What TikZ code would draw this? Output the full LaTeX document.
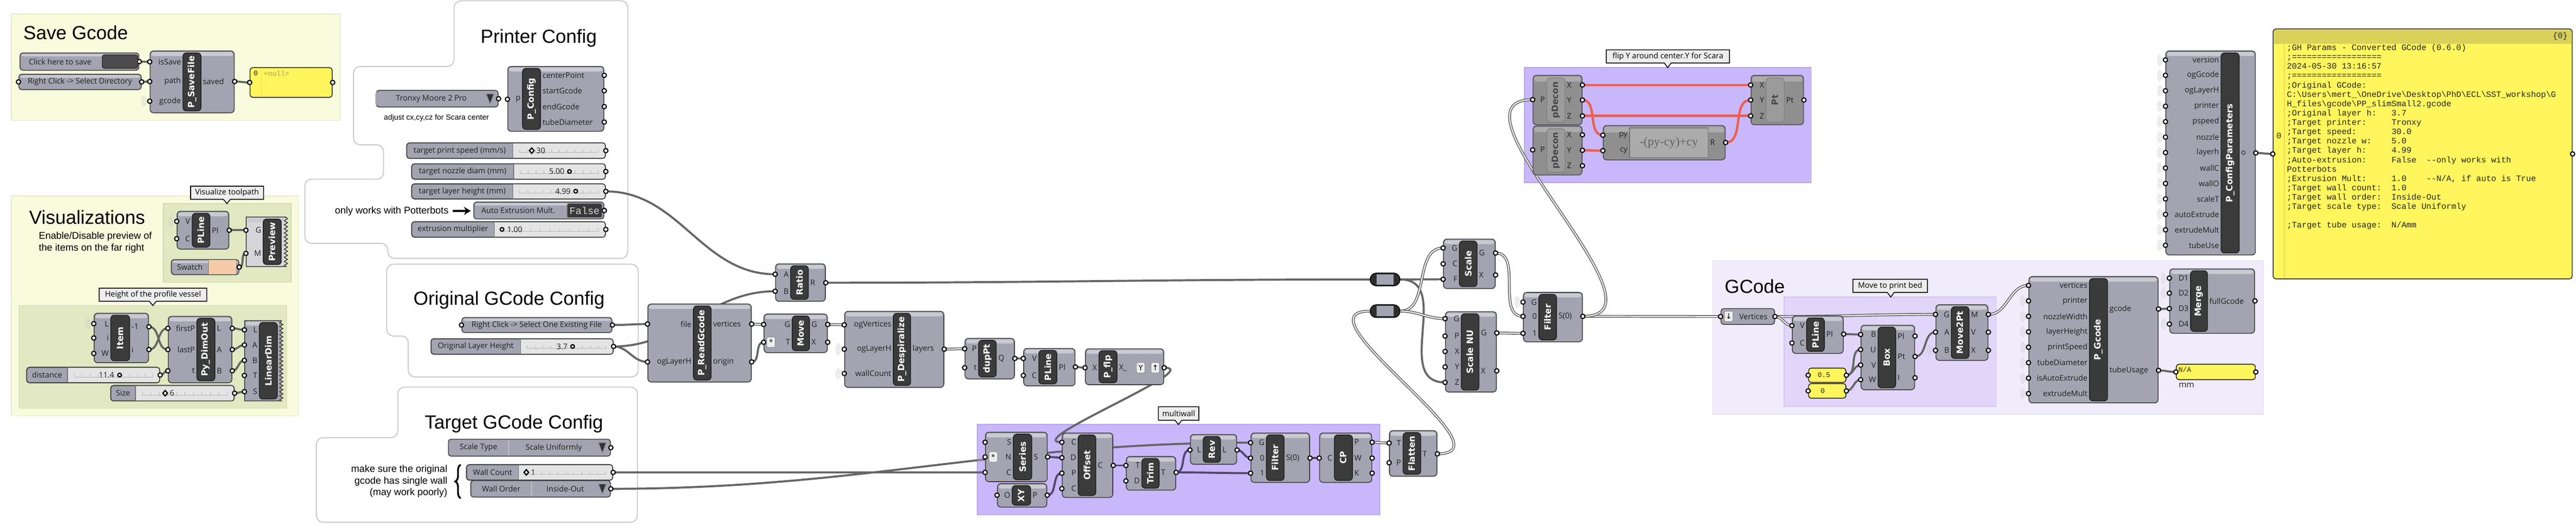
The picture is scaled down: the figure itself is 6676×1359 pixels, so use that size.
\documentclass[tikz,border=0pt]{standalone}
\usepackage{fontspec}
\setmainfont{Open Sans}
\newfontfamily\titlefont{Liberation Sans}
\newfontfamily\namefont{DejaVu Sans}
\newfontfamily\monofont{Liberation Mono}
\newfontfamily\exprfont{Liberation Serif}
\newfontfamily\symfont{DejaVu Sans}
\usetikzlibrary{fit,calc,arrows.meta,decorations.pathreplacing,decorations.pathmorphing}

\definecolor{compfill}{HTML}{A3A3B1}
\definecolor{comptopc}{HTML}{CACAD3}
\definecolor{compline}{HTML}{3E3E3E}
\definecolor{barc}{HTML}{3B3B3B}
\definecolor{lightc}{HTML}{D6D6DA}
\definecolor{greyc}{HTML}{8F8F8F}
\definecolor{greytopc}{HTML}{ABABAB}
\definecolor{greybarc}{HTML}{9B9B9B}
\definecolor{sliderlc}{HTML}{E4E4E4}
\definecolor{panelyc}{HTML}{FFF55C}
\definecolor{bigheadc}{HTML}{D9D15A}
\definecolor{stripc}{HTML}{E6DD55}
\definecolor{nullc}{HTML}{A39D62}
\definecolor{swatchc}{HTML}{F5CBA7}
\definecolor{wirec}{HTML}{666666}
\definecolor{mwirec}{HTML}{51476A}
\definecolor{redc}{HTML}{EE5E4C}
\definecolor{grpyelc}{HTML}{F8FBDC}
\definecolor{grpyeld}{HTML}{E6EACB}
\definecolor{grpolc}{HTML}{E2E8C1}
\definecolor{grpold}{HTML}{D2D9AE}
\definecolor{grppc}{HTML}{C9B7FB}
\definecolor{grppd}{HTML}{B6A3EC}
\definecolor{grplc}{HTML}{F1ECFC}
\definecolor{grpld}{HTML}{E4DDF5}
\definecolor{grpl2c}{HTML}{E1D6FA}
\definecolor{grpl2d}{HTML}{D0C3F0}

\pgfdeclarelayer{grp}
\pgfdeclarelayer{wires}
\pgfsetlayers{grp,wires,main}

% component: name, x1, y1, x2, y2, bar x1, bar x2, nickname
\newcommand{\ghcomp}[8]{%
  \node[comp, fit={(#2,#3) (#4,#5)}] (#1) {};
  \fill[comptop] (#2+3,#3+3) rectangle (#4-3,#3+13);
  \node[cbar, fit={(#6,#3+5) (#7,#5-5)}] (#1-bar) {};
  \node[cname] (#1-name) at (#1-bar) {#8};
}
% greyed component (flip group)
\newcommand{\ghgrey}[8]{%
  \node[gcomp, fit={(#2,#3) (#4,#5)}] (#1) {};
  \fill[gcomptop] (#2+3,#3+3) rectangle (#4-3,#3+16);
  \node[gbar, fit={(#6,#3+7) (#7,#5-7)}] (#1-bar) {};
  \node[gname] (#1-name) at (#1-bar) {#8};
}
% component with jagged right side (no outputs)
\newcommand{\ghzig}[9][compfill]{%
  \node[inner sep=0pt, fit={(#3,#4) (#5,#6)}] (#2) {};
  \draw[zigbody, fill=#1] (#5,#4) -- (#3,#4) -- (#3,#6) -- (#5,#6) decorate {-- (#5,#4)} -- cycle;
  \fill[comptop] (#3+3,#4+3) rectangle (#5-6,#4+13);
  \node[cbar, fit={(#7,#4+5) (#8,#6-5)}] (#2-bar) {};
  \node[cname] (#2-name) at (#2-bar) {#9};
}
% grips: component, id, y, label
\newcommand{\inp}[4]{%
  \coordinate (#1-#2-y) at (0,#3);
  \coordinate (#1-#2) at (#1.west |- #1-#2-y);
  \node[plabel, anchor=east] (#1-#2-lab) at (#1-bar.west |- #1-#2-y) {#4};
  \draw[grip] (#1-#2) circle (1.6pt);
}
\newcommand{\outp}[4]{%
  \coordinate (#1-#2-y) at (0,#3);
  \coordinate (#1-#2) at (#1.east |- #1-#2-y);
  \node[plabel, anchor=west] (#1-#2-lab) at (#1-bar.east |- #1-#2-y) {#4};
  \draw[grip] (#1-#2) circle (1.6pt);
}
\newcommand{\rings}[1]{%
  \foreach \rr in {3.4pt,4.6pt,5.8pt}
    \draw[ring] ([shift={(135:\rr)}]#1) arc[start angle=135, end angle=225, radius=\rr];
}
% slider: name, x1, y1, x2, y2, split, label
\newcommand{\slider}[7]{%
  \node[pbody, fit={(#2,#3) (#4,#5)}] (#1) {};
  \fill[sliderc] (#6,#3+1) rectangle (#4-2,#5-1);
  \draw[pline] (#2,#3) rectangle (#4,#5);
  \draw[sepline] (#6,#3) -- (#6,#5);
  \node[plabel] (#1-lab) at ({(#2+#6)/2},{(#3+#5)/2}) {#7};
  \draw[track] (#6+18,{(#3+#5)/2+5}) -- (#4-18,{(#3+#5)/2+5});
  \foreach \k in {0,...,10}
    \draw[track] ({#6+18+\k*(#4-#6-36)/10},{(#3+#5)/2+5}) -- +(0,-8);
  \coordinate (#1-out) at (#1.east);
  \draw[grip] (#1-out) circle (1.6pt);
}
\newcommand{\knobo}[2]{\draw[knob] (#1,#2) circle (1.35pt);}
\newcommand{\knobd}[2]{\draw[knob] (#1-6,#2) -- (#1,#2-7) -- (#1+6,#2) -- (#1,#2+7) -- cycle;}
% value list: name, x1, y1, x2, y2, split, label, value
\newcommand{\vlist}[8]{%
  \node[pbody, fit={(#2,#3) (#4,#5)}] (#1) {};
  \draw[sepline, draw=black!25] (#6,#3+2) -- (#6,#5-2);
  \node[plabel] (#1-lab) at ({(#2+#6)/2},{(#3+#5)/2}) {#7};
  \node[plabel] (#1-val) at ({(#6+#4-30)/2},{(#3+#5)/2}) {#8};
  \draw[tri] (#4-31,#3+9) -- (#4-11,#3+9) -- (#4-21,#5-8) -- cycle;
  \coordinate (#1-out) at (#1.east);
  \draw[grip] (#1-out) circle (1.6pt);
}
% text parameter: name, x1, y1, x2, y2, text x, text
\newcommand{\tparam}[7]{%
  \node[pbody, fit={(#2,#3) (#4,#5)}] (#1) {};
  \fill[comptop] (#2+3,#3+3) rectangle (#4-3,#3+9);
  \node[plabel] (#1-lab) at (#6,{(#3+#5)/2}) {#7};
  \coordinate (#1-out) at (#1.east);
  \draw[grip] (#1-out) circle (1.6pt);
}
\newcommand{\ypanelbox}[5]{%
  \node[ypanel, fit={(#2,#3) (#4,#5)}] (#1) {};
  \coordinate (#1-in) at (#1.west);
  \coordinate (#1-out) at (#1.east);
  \draw[grip] (#1-in) circle (1.6pt);
  \draw[grip] (#1-out) circle (1.6pt);
}
\newcommand{\relay}[5]{%
  \node[relayc, fit={(#2,#3) (#4,#5)}] (#1) {};
  \fill[compfill] (#2+16,#3+3) rectangle (#4-16,#5-3);
  \coordinate (#1-in) at (#1.west);
  \coordinate (#1-out) at (#1.east);
}
% callout: name, x1, y1, x2, y2, tip x, tip y, text
\newcommand{\callout}[8]{%
  \draw[callbox] (#2,#3) -- (#4,#3) -- (#4,#5) -- (#6+9,#5) -- (#6,#7) -- (#6-9,#5) -- (#2,#5) -- cycle;
  \node[clabel] (#1) at ({(#2+#4)/2},{(#3+#5)/2}) {#8};
}

\begin{document}
\begin{tikzpicture}[x=0.01cm, y=-0.01cm]
  \tikzset{%
    comp/.style={draw=compline, fill=compfill, line width=0.6pt, rounded corners=2.5pt, inner sep=0pt},
    comptop/.style={fill=comptopc, rounded corners=1.5pt},
    cbar/.style={draw=black!90, fill=barc, line width=0.5pt, rounded corners=2.5pt, inner sep=0pt},
    cname/.style={rotate=90, text=white, inner sep=0pt, font=\namefont\bfseries\fontsize{6.4}{7}\selectfont},
    gcomp/.style={draw=black!70, fill=greyc, line width=0.6pt, rounded corners=2.5pt, inner sep=0pt},
    gcomptop/.style={fill=greytopc, rounded corners=1.5pt},
    gbar/.style={draw=black!50, fill=greybarc, line width=0.5pt, rounded corners=2.5pt, inner sep=0pt},
    gname/.style={rotate=90, text=black!72, inner sep=0pt, font=\namefont\bfseries\fontsize{6.4}{7}\selectfont},
    zigbody/.style={draw=compline, line width=0.6pt, decoration={zigzag, segment length=3pt, amplitude=1.2pt}},
    plabel/.style={inner sep=1pt, text=black!88, font=\fontsize{5.7}{6.5}\selectfont},
    grip/.style={draw=black, fill=white, line width=0.8pt},
    ring/.style={draw=black!22, line width=0.3pt},
    pbody/.style={draw=compline, fill=compfill, line width=0.6pt, rounded corners=2pt, inner sep=0pt},
    pline/.style={draw=compline, line width=0.6pt, rounded corners=2pt},
    sliderc/.style={fill=sliderlc},
    sepline/.style={draw=black!55, line width=0.5pt},
    track/.style={draw=black!30, line width=0.3pt},
    knob/.style={draw=black, fill=white, line width=0.9pt},
    tri/.style={draw=black!45, fill=black!80, line width=0.5pt},
    ypanel/.style={draw=black!85, fill=panelyc, line width=0.6pt, rounded corners=2pt, inner sep=0pt},
    mono/.style={inner sep=0pt, text=black!85, font=\monofont\fontsize{5.2}{6}\selectfont},
    grp/.style={line width=0.6pt, inner sep=0pt},
    blob/.style={draw=black!22, fill=white, line width=0.7pt, rounded corners=5pt},
    title/.style={inner sep=0pt, anchor=base west, font=\titlefont\fontsize{14}{16}\selectfont},
    note/.style={inner sep=0pt, font=\titlefont\fontsize{7.2}{8.5}\selectfont},
    smallnote/.style={inner sep=0pt, font=\titlefont\fontsize{5.6}{6.5}\selectfont},
    callbox/.style={draw=black, fill=black!7, line width=0.6pt},
    clabel/.style={inner sep=0pt, font=\fontsize{5.7}{6.5}\selectfont},
    iconbox/.style={draw=black!45, fill=black!7, rounded corners=1pt, inner sep=0pt, minimum width=0.22cm, minimum height=0.27cm, font=\symfont\fontsize{5.5}{6}\selectfont},
    darkbtn/.style={draw=black!85, fill=black!70, line width=0.5pt, rounded corners=1.5pt, inner sep=0pt},
    togkey/.style={draw=black!55, fill=black!78, line width=0.5pt, rounded corners=1pt, inner sep=0pt},
    relayc/.style={draw=black, fill=black!82, line width=0.6pt, rounded corners=4.5pt, inner sep=0pt},
    exbox/.style={draw=black!55, fill=black!33, line width=0.5pt, inner sep=0pt},
    exlabel/.style={inner sep=0pt, text=black!62, font=\exprfont\fontsize{9}{10}\selectfont},
    wallbrace/.style={decorate, decoration={brace, amplitude=4pt}, line width=1.3pt},
    wire/.style={draw=wirec, line width=1.5pt},
    lwire/.style={draw=wirec, line width=0.65pt, double=white, double distance=0.75pt},
    mwire/.style={draw=mwirec, line width=1.5pt},
    rwire/.style={draw=redc, line width=1.7pt},
    fw/.style={out=0, in=180}
  }
  \useasboundingbox (0,0) rectangle (6676,1359);

  \begin{pgfonlayer}{grp}
    \fill[white] (0,0) rectangle (6676,1359);
    \draw[blob] (1177,2) -- (1627,2) -- (1627,669) -- (1005,669) -- (1005,630) -- (790,630) -- (790,464) -- (994,464) -- (994,375) -- (916,375) -- (916,172) -- (1177,172) -- cycle;
    \draw[blob] (1002,684) -- (1654,684) -- (1654,976) -- (1058,976) -- (1058,870) -- (1002,870) -- cycle;
    \draw[blob] (1031,1002) -- (1652,1002) -- (1652,1352) -- (820,1352) -- (820,1133) -- (1031,1133) -- cycle;
    \node[grp, fill=grpyelc, draw=grpyeld, fit={(29,36) (881,312)}] (gsave) {};
    \node[grp, fill=grpyelc, draw=grpyeld, fit={(29,507) (774,1077)}] (gvis) {};
    \node[grp, fill=grpolc, draw=grpold, fit={(423,527) (754,731)}] (gtool) {};
    \node[grp, fill=grpolc, draw=grpold, fit={(49,791) (743,1057)}] (gheight) {};
    \node[grp, fill=grppc, draw=grppd, fit={(2533,1099) (3576,1333)}] (gmulti) {};
    \node[grp, fill=grppc, draw=grppd, fit={(3951,175) (4694,473)}] (gflip) {};
    \node[grp, fill=grplc, draw=grpld, fit={(4439,675) (5866,1072)}] (ggcode) {};
    \node[grp, fill=grpl2c, draw=grpl2d, fit={(4624,769) (5173,1052)}] (gbed) {};
  \end{pgfonlayer}

  % titles and notes
  \node[title] (tsave) at (60,102) {Save Gcode};
  \node[title] (tvis) at (75,580) {Visualizations};
  \node[title] (tprinter) at (1245,112) {Printer Config};
  \node[title] (torig) at (1071,790) {Original GCode Config};
  \node[title] (ttarget) at (1100,1110) {Target GCode Config};
  \node[title] (tgcode) at (4469,759) {GCode};
  \node[note, anchor=north west, align=left] (nvis) at (100,600) {Enable/Disable preview of\\the items on the far right};
  \node[smallnote] (nscara) at (1131,305) {adjust cx,cy,cz for Scara center};
  \node[note, anchor=east] (npotter) at (1163,547) {only works with Potterbots};
  \node[note, anchor=east, align=right] (nwall) at (1160,1246) {make sure the original\\gcode has single wall\\(may work poorly)};
  \draw[wallbrace] (1194,1290) -- (1194,1203);

  % callouts
  \callout{cvis}{494}{482}{683}{516}{588}{527}{Visualize toolpath}
  \callout{cheight}{257}{746}{536}{780}{396}{791}{Height of the profile vessel}
  \callout{cmulti}{3002}{1053}{3107}{1088}{3054}{1099}{multiwall}
  \callout{cflip}{4163}{129}{4482}{163}{4322}{175}{flip Y around center.Y for Scara}
  \callout{cbed}{4802}{723}{4995}{757}{4900}{769}{Move to print bed}

  % save gcode
  \tparam{btn}{52}{137}{360}{182}{156}{Click here to save}
  \node[darkbtn, fit={(265,142) (357,177)}] (btn-key) {};
  \tparam{dirp}{49}{192}{366}{232}{207}{Right Click -> Select Directory}
  \coordinate (dirp-in) at (dirp.west);
  \draw[grip] (dirp-in) circle (1.6pt);
  \ghcomp{sf}{389}{132}{607}{292}{474}{521}{P\_SaveFile}
  \inp{sf}{isSave}{160}{isSave}
  \inp{sf}{path}{211}{path}
  \inp{sf}{gcode}{262}{gcode}
  \rings{sf-gcode}
  \outp{sf}{saved}{211}{saved}
  \ypanelbox{null}{648}{175}{861}{252}
  \draw[draw=stripc, line width=0.5pt] (678,177) -- (678,250);
  \node[mono] (null-i) at (663,190) {0};
  \node[mono, text=nullc, anchor=west] (null-t) at (683,190) {<null>};

  % visualisations
  \ghcomp{vpl}{459}{547}{593}{645}{498}{544}{PLine}
  \inp{vpl}{V}{573}{V}
  \rings{vpl-V}
  \inp{vpl}{C}{618}{C}
  \outp{vpl}{Pl}{596}{Pl}
  \ghzig[lightc]{prev}{638}{562}{741}{690}{682}{729}{Preview}
  \inp{prev}{G}{596}{G}
  \inp{prev}{M}{656}{M}
  \tparam{sw}{444}{672}{619}{711}{492}{Swatch}
  \fill[swatchc] (541,673) rectangle (612,710);
  \draw[sepline] (540,672) -- (540,711);
  \draw[grip] (sw-out) circle (1.6pt);

  \ghcomp{item}{244}{811}{385}{939}{287}{336}{Item}
  \inp{item}{L}{838}{L}
  \rings{item-L}
  \inp{item}{i}{875}{i}
  \inp{item}{W}{915}{W}
  \outp{item}{last}{846}{-1}
  \outp{item}{io}{905}{i}
  \ghcomp{dim}{436}{819}{601}{991}{510}{557}{Py\_DimOut}
  \inp{dim}{firstP}{850}{firstP}
  \inp{dim}{lastP}{905}{lastP}
  \inp{dim}{t}{960}{t}
  \outp{dim}{L}{850}{L}
  \outp{dim}{A}{905}{A}
  \outp{dim}{B}{960}{B}
  \ghzig{ld}{634}{830}{729}{1038}{672}{719}{LinearDim}
  \inp{ld}{L}{854}{L}
  \inp{ld}{A}{893}{A}
  \inp{ld}{B}{933}{B}
  \inp{ld}{T}{972}{T}
  \inp{ld}{S}{1014}{S}
  \slider{dist}{69}{951}{414}{991}{175}{distance}
  \knobo{310}{971}
  \node[plabel, anchor=east] (dist-val) at (300,971) {11.4};
  \slider{size}{287}{998}{607}{1038}{351}{Size}
  \knobd{428}{1018}
  \node[plabel, anchor=west] (size-val) at (436,1018) {6};

  % printer config
  \vlist{tronxy}{975}{234}{1291}{277}{975}{}{Tronxy Moore 2 Pro}
  \ghcomp{pcfg}{1316}{172}{1565}{340}{1354}{1401}{P\_Config}
  \inp{pcfg}{p}{257}{p}
  \outp{pcfg}{cp}{195}{centerPoint}
  \outp{pcfg}{sg}{235}{startGcode}
  \outp{pcfg}{eg}{276}{endGcode}
  \outp{pcfg}{td}{316}{tubeDiameter}
  \slider{spd}{1054}{370}{1569}{410}{1329}{target print speed (mm/s)}
  \knobd{1378}{390}
  \node[plabel, anchor=west] (spd-val) at (1386,390) {30};
  \slider{noz}{1067}{424}{1569}{464}{1331}{target nozzle diam (mm)}
  \knobo{1476}{444}
  \node[plabel, anchor=east] (noz-val) at (1467,444) {5.00};
  \slider{lyh}{1067}{476}{1569}{515}{1329}{target layer height (mm)}
  \knobo{1492}{495}
  \node[plabel, anchor=east] (lyh-val) at (1483,495) {4.99};
  \tparam{tog}{1228}{523}{1565}{567}{1343}{Auto Extrusion Mult.}
  \node[togkey, fit={(1470,527) (1560,563)}] (tog-key) {};
  \node[inner sep=0pt, text=black!15, font=\monofont\fontsize{7.4}{8}\selectfont] (tog-val) at (tog-key) {False};
  \draw[grip] (tog-out) circle (1.6pt);
  \draw[-{Stealth[length=5pt,width=6pt]}, line width=1.4pt, shorten <=3pt, shorten >=2pt] (npotter) -- (tog);
  \slider{xm}{1067}{574}{1569}{614}{1281}{extrusion multiplier}
  \knobo{1301}{594}
  \node[plabel, anchor=west] (xm-val) at (1310,594) {1.00};

  % original gcode config
  \tparam{filep}{1197}{822}{1586}{861}{1391}{Right Click -> Select One Existing File}
  \coordinate (filep-in) at (filep.west);
  \draw[grip] (filep-in) circle (1.6pt);
  \slider{oglh}{1117}{877}{1589}{917}{1349}{Original Layer Height}
  \knobo{1484}{897}
  \node[plabel, anchor=east] (oglh-val) at (1475,897) {3.7};

  % target gcode config
  \vlist{stype}{1162}{1137}{1582}{1181}{1318}{Scale Type}{Scale Uniformly}
  \slider{wc}{1209}{1203}{1588}{1243}{1344}{Wall Count}
  \knobd{1364}{1223}
  \node[plabel, anchor=west] (wc-val) at (1372,1223) {1};
  \vlist{worder}{1220}{1244}{1582}{1287}{1378}{Wall Order}{Inside-Out}

  % reading and despiralising
  \ghcomp{ratio}{2010}{683}{2139}{780}{2049}{2095}{Ratio}
  \inp{ratio}{A}{710}{A}
  \inp{ratio}{B}{754}{B}
  \outp{ratio}{R}{732}{R}
  \ghcomp{rg}{1679}{787}{1947}{989}{1797}{1843}{P\_ReadGcode}
  \inp{rg}{file}{839}{file}
  \inp{rg}{lh}{937}{ogLayerH}
  \outp{rg}{vert}{839}{vertices}
  \outp{rg}{orig}{937}{origin}
  \ghcomp{mv}{1980}{813}{2144}{913}{2053}{2098}{Move}
  \inp{mv}{G}{840}{G}
  \inp{mv}{T}{886}{T}
  \node[iconbox] (mv-ic) at (1998,886) {*};
  \outp{mv}{Go}{840}{G}
  \outp{mv}{X}{886}{X}
  \ghcomp{ds}{2189}{806}{2446}{1003}{2315}{2360}{P\_Despiralize}
  \inp{ds}{ogv}{841}{ogVertices}
  \inp{ds}{lh}{904}{ogLayerH}
  \rings{ds-lh}
  \inp{ds}{wc}{967}{wallCount}
  \rings{ds-wc}
  \outp{ds}{layers}{904}{layers}
  \ghcomp{dp}{2501}{876}{2629}{981}{2536}{2582}{dupPt}
  \inp{dp}{P}{903}{P}
  \inp{dp}{t}{952}{t}
  \outp{dp}{Q}{928}{Q}
  \ghcomp{pl}{2653}{902}{2786}{999}{2692}{2739}{PLine}
  \inp{pl}{V}{928}{V}
  \inp{pl}{C}{972}{C}
  \outp{pl}{Pl}{950}{Pl}
  \ghcomp{flp}{2813}{903}{3016}{996}{2848}{2895}{P\_flp}
  \inp{flp}{X}{952}{X}
  \outp{flp}{Xo}{952}{X\_}
  \node[iconbox] (flp-ic1) at (2956,952) {Y};
  \node[iconbox] (flp-ic2) at (2994,952) {↑};

  % multiwall
  \ghcomp{ser}{2554}{1119}{2714}{1247}{2626}{2674}{Series}
  \inp{ser}{S}{1145}{S}
  \inp{ser}{N}{1183}{N}
  \rings{ser-N}
  \node[iconbox] (ser-ic) at (2574,1183) {*};
  \inp{ser}{C}{1223}{C}
  \outp{ser}{So}{1183}{S}
  \ghcomp{xy}{2585}{1252}{2713}{1313}{2623}{2671}{XY}
  \inp{xy}{O}{1282}{O}
  \outp{xy}{P}{1282}{P}
  \ghcomp{off}{2753}{1121}{2884}{1288}{2794}{2840}{Offset}
  \inp{off}{C}{1145}{C}
  \inp{off}{D}{1185}{D}
  \inp{off}{P}{1225}{P}
  \inp{off}{Cc}{1265}{C}
  \outp{off}{Co}{1205}{C}
  \ghcomp{trim}{2919}{1182}{3047}{1269}{2959}{3004}{Trim}
  \inp{trim}{T}{1205}{T}
  \inp{trim}{D}{1245}{D}
  \outp{trim}{To}{1223}{T}
  \ghcomp{rev}{3085}{1125}{3205}{1202}{3118}{3163}{Rev}
  \inp{rev}{L}{1165}{L}
  \outp{rev}{Lo}{1165}{L}
  \ghcomp{mf}{3242}{1121}{3394}{1249}{3282}{3328}{Filter}
  \inp{mf}{G}{1146}{G}
  \inp{mf}{z}{1186}{0}
  \inp{mf}{o}{1225}{1}
  \outp{mf}{S}{1186}{S(0)}
  \ghcomp{cp}{3420}{1121}{3555}{1249}{3458}{3505}{CP}
  \inp{cp}{C}{1186}{C}
  \outp{cp}{P}{1145}{P}
  \outp{cp}{W}{1186}{W}
  \outp{cp}{K}{1225}{K}
  \ghcomp{fl}{3601}{1115}{3724}{1233}{3636}{3682}{Flatten}
  \inp{fl}{T}{1147}{T}
  \inp{fl}{P}{1198}{P}
  \outp{fl}{To}{1175}{T}

  % scaling
  \relay{ry1}{3551}{707}{3628}{740}
  \relay{ry2}{3551}{789}{3628}{822}
  \ghcomp{sc}{3741}{619}{3875}{747}{3782}{3828}{Scale}
  \inp{sc}{G}{642}{G}
  \inp{sc}{C}{683}{C}
  \inp{sc}{F}{723}{F}
  \outp{sc}{Go}{655}{G}
  \outp{sc}{X}{712}{X}
  \ghcomp{snu}{3746}{807}{3878}{1015}{3787}{3833}{Scale NU}
  \inp{snu}{G}{825}{G}
  \inp{snu}{P}{870}{P}
  \inp{snu}{X}{910}{X}
  \inp{snu}{Y}{950}{Y}
  \inp{snu}{Z}{990}{Z}
  \outp{snu}{Go}{862}{G}
  \outp{snu}{Xo}{960}{X}
  \ghcomp{fi}{3948}{757}{4101}{885}{3988}{4034}{Filter}
  \inp{fi}{G}{782}{G}
  \rings{fi-G}
  \inp{fi}{z}{819}{0}
  \inp{fi}{o}{863}{1}
  \outp{fi}{S}{819}{S(0)}

  % flip for scara
  \ghgrey{pd1}{3973}{195}{4100}{323}{4009}{4056}{pDecon}
  \inp{pd1}{P}{258}{P}
  \outp{pd1}{X}{220}{X}
  \outp{pd1}{Y}{259}{Y}
  \outp{pd1}{Z}{300}{Z}
  \ghgrey{pd2}{3973}{326}{4100}{453}{4009}{4056}{pDecon}
  \inp{pd2}{P}{388}{P}
  \rings{pd2-P}
  \outp{pd2}{X}{349}{X}
  \outp{pd2}{Y}{389}{Y}
  \outp{pd2}{Z}{429}{Z}
  \node[gcomp, fit={(4155,325) (4471,414)}] (ex) {};
  \fill[gcomptop] (4158,328) rectangle (4468,343);
  \node[exbox, fit={(4223,331) (4427,408)}] (ex-bar) {};
  \node[exlabel] (ex-expr) at (ex-bar) {-(py-cy)+cy};
  \inp{ex}{py}{350}{py}
  \inp{ex}{cy}{390}{cy}
  \outp{ex}{R}{369}{R}
  \ghgrey{pt}{4538}{195}{4674}{323}{4577}{4624}{Pt}
  \inp{pt}{X}{220}{X}
  \inp{pt}{Y}{259}{Y}
  \inp{pt}{Z}{300}{Z}
  \outp{pt}{Pt}{259}{Pt}

  % gcode
  \node[pbody, fit={(4460,799) (4599,840)}] (vert) {};
  \node[iconbox] (vert-ic) at (4480,819) {↓};
  \node[plabel] (vert-lab) at (4544,820) {Vertices};
  \coordinate (vert-in) at (vert.west);
  \coordinate (vert-out) at (vert.east);
  \draw[grip] (vert-in) circle (1.6pt);
  \draw[grip] (vert-out) circle (1.6pt);
  \ghcomp{gpl}{4645}{818}{4777}{915}{4682}{4728}{PLine}
  \inp{gpl}{V}{843}{V}
  \inp{gpl}{C}{888}{C}
  \outp{gpl}{Pl}{865}{Pl}
  \ghcomp{box}{4823}{842}{4962}{1009}{4867}{4913}{Box}
  \inp{box}{B}{866}{B}
  \inp{box}{U}{905}{U}
  \inp{box}{V}{945}{V}
  \inp{box}{W}{983}{W}
  \outp{box}{Pl}{870}{Pl}
  \outp{box}{Pt}{923}{Pt}
  \outp{box}{I}{978}{I}
  \ypanelbox{p05}{4687}{953}{4784}{990}
  \node[mono] (p05-t) at (4727,971) {0.5};
  \ypanelbox{p0}{4687}{993}{4784}{1031}
  \node[mono] (p0-t) at (4724,1012) {0};
  \ghcomp{m2}{5017}{789}{5152}{933}{5057}{5103}{Move2Pt}
  \inp{m2}{G}{814}{G}
  \inp{m2}{A}{860}{A}
  \inp{m2}{B}{907}{B}
  \rings{m2-B}
  \outp{m2}{M}{814}{M}
  \outp{m2}{V}{860}{V}
  \outp{m2}{X}{907}{X}
  \ghcomp{pg}{5258}{716}{5593}{1043}{5415}{5462}{P\_Gcode}
  \foreach \lab [count=\i from 0] in {vertices,printer,nozzleWidth,layerHeight,printSpeed,tubeDiameter,isAutoExtrude,extrudeMult}{
    \inp{pg}{in\i}{739+40*\i}{\lab}
  }
  \foreach \i in {1,...,7}{\rings{pg-in\i}}
  \outp{pg}{gc}{800}{gcode}
  \outp{pg}{tu}{959}{tubeUsage}
  \ghcomp{mg}{5623}{696}{5843}{863}{5677}{5721}{Merge}
  \inp{mg}{D1}{720}{D1}
  \inp{mg}{D2}{759}{D2}
  \inp{mg}{D3}{799}{D3}
  \inp{mg}{D4}{839}{D4}
  \rings{mg-D1}
  \rings{mg-D2}
  \rings{mg-D4}
  \outp{mg}{full}{779}{fullGcode}
  \ypanelbox{na}{5640}{943}{5845}{983}
  \node[mono, anchor=north west] (na-t) at (5645,950) {N/A};
  \node[plabel, anchor=west, font=\fontsize{6.2}{7}\selectfont] (na-unit) at (5642,998) {mm};

  % parameter summary
  \ghcomp{cfp}{5613}{132}{5845}{660}{5756}{5803}{P\_ConfigParameters}
  \foreach \lab [count=\i from 0] in {version,ogGcode,ogLayerH,printer,pspeed,nozzle,layerh,wallC,wallO,scaleT,autoExtrude,extrudeMult,tubeUse}{
    \inp{cfp}{in\i}{155+40*\i}{\lab}
    \rings{cfp-in\i}
  }
  \outp{cfp}{o}{396}{o}
  \ypanelbox{big}{5891}{75}{6666}{722}
  \fill[bigheadc] (5893,77) rectangle (6664,114);
  \draw[draw=stripc, line width=0.6pt] (5920,114) -- (5920,720);
  \node[mono, anchor=east, font=\monofont\fontsize{6.1}{7}\selectfont] (big-idx) at (6655,94) {\{0\}};
  \node[mono, font=\monofont\fontsize{6.1}{7}\selectfont] (big-zero) at (5906,352) {0};
  \node[mono, anchor=north west, align=left, font=\monofont\fontsize{6.12}{6.88}\selectfont] (big-txt) at (5926,114) {%
;GH~Params~-{}~Converted~GCode~(0.6.0)\\
;==================\\
2024-05-30~13:16:57\\
;==================\\
;Original~GCode:\\
C:\textbackslash Users\textbackslash mert\_\textbackslash OneDrive\textbackslash Desktop\textbackslash PhD\textbackslash ECL\textbackslash SST\_workshop\textbackslash G\\
H\_files\textbackslash gcode\textbackslash PP\_slimSmall2.gcode\\
;Original~layer~h:~~~3.7\\
;Target~printer:~~~~~Tronxy\\
;Target~speed:~~~~~~~30.0\\
;Target~nozzle~w:~~~~5.0\\
;Target~layer~h:~~~~~4.99\\
;Auto-extrusion:~~~~~False~~-{}-only~works~with\\
Potterbots\\
;Extrusion~Mult:~~~~~1.0~~~~-{}-N/A,~if~auto~is~True\\
;Target~wall~count:~~1.0\\
;Target~wall~order:~~Inside-Out\\
;Target~scale~type:~~Scale~Uniformly\\
~\\
;Target~tube~usage:~~N/Amm};

  \begin{pgfonlayer}{wires}
    % save
    \draw[wire] (btn-out) to[fw] (sf-isSave);
    \draw[wire] (dirp-out) to[fw] (sf-path);
    \draw[wire] (sf-saved) to[fw] (null-in);
    % visualisations
    \draw[wire] (vpl-Pl) to[fw] (prev-G);
    \draw[wire] (sw-out) to[fw] (prev-M);
    \draw[wire] (item-last) to[fw] (dim-lastP);
    \draw[wire] (item-io) to[fw] (dim-firstP);
    \draw[wire] (dim-L) to[fw] (ld-L);
    \draw[wire] (dim-A) to[fw] (ld-A);
    \draw[wire] (dim-B) to[fw] (ld-B);
    \draw[wire] (dist-out) to[fw] (dim-t);
    \draw[wire] (size-out) to[fw] (ld-S);
    % reading
    \draw[wire] (lyh-out) to[fw] (ratio-A);
    \draw[wire] (filep-out) to[fw] (rg-file);
    \draw[wire] (oglh-out) to[fw] (rg-lh);
    \draw[wire] (oglh-out) to[fw] (ratio-B);
    \draw[lwire] (rg-vert) to[fw] (mv-G);
    \draw[wire] (rg-orig) to[fw] (mv-T);
    \draw[lwire] (mv-Go) to[fw] (ds-ogv);
    \draw[lwire] (ds-layers) to[fw] (dp-P);
    \draw[wire] (dp-Q) to[fw] (pl-V);
    \draw[wire] (pl-Pl) to[fw] (flp-X);
    \draw[wire] (flp-Xo) .. controls ($(flp-Xo)+(110,0)$) and ($(off-C)+(-110,0)$) .. (off-C);
    % multiwall
    \draw[wire] (wc-out) to[fw] (ser-C);
    \draw[wire] (worder-out) to[fw] (mf-G);
    \draw[mwire] (ser-So) to[fw] (off-D);
    \draw[mwire] (xy-P) to[fw] (off-P);
    \draw[mwire] (off-Co) to[fw] (trim-T);
    \draw[mwire] (trim-To) to[fw] (rev-L);
    \draw[mwire] (trim-To) to[fw] (mf-o);
    \draw[mwire] (rev-Lo) to[fw] (mf-z);
    \draw[mwire] (mf-S) to[fw] (cp-C);
    \draw[lwire] (cp-P) to[fw] (fl-T);
    \draw[lwire] (fl-To) .. controls ($(fl-To)+(200,0)$) and ($(ry2-in)+(-200,0)$) .. (ry2-in);
    % scaling
    \draw[wire] (ratio-R) to[fw] (ry1-in);
    \draw[wire] (ry1-out) to[fw] (sc-F);
    \draw[wire] (ry1-out) to[fw, looseness=1.2] (snu-Z);
    \draw[lwire] (ry2-out) to[fw] (sc-G);
    \draw[lwire] (ry2-out) to[fw] (snu-G);
    \draw[lwire] (sc-Go) to[fw] (fi-z);
    \draw[lwire] (snu-Go) to[fw] (fi-o);
    \draw[lwire] (fi-S) to[fw] (vert-in);
    \draw[lwire] (fi-S) .. controls ($(fi-S)+(250,0)$) and ($(pd1-P)+(-250,0)$) .. (pd1-P);
    % flip
    \draw[rwire] (pd1-X) to[fw] (pt-X);
    \draw[rwire] (pd1-Z) to[fw] (pt-Z);
    \draw[rwire] (pd1-Y) to[fw] (ex-py);
    \draw[rwire] (pd2-Y) to[fw] (ex-cy);
    \draw[rwire] (ex-R) to[fw] (pt-Y);
    % gcode
    \draw[lwire] (vert-out) to[fw] (m2-G);
    \draw[lwire] (vert-out) to[fw] (gpl-V);
    \draw[wire] (gpl-Pl) to[fw] (box-B);
    \draw[wire] (p05-out) to[fw] (box-U);
    \draw[wire] (p05-out) to[fw] (box-V);
    \draw[wire] (p0-out) to[fw] (box-W);
    \draw[wire] (box-Pt) to[fw] (m2-A);
    \draw[lwire] (m2-M) to[fw] (pg-in0);
    \draw[wire] (pg-gc) to[fw] (mg-D3);
    \draw[wire] (pg-tu) to[fw] (na-in);
    \draw[wire] (cfp-o) to[fw] (big-in);
  \end{pgfonlayer}
\end{tikzpicture}
\end{document}
